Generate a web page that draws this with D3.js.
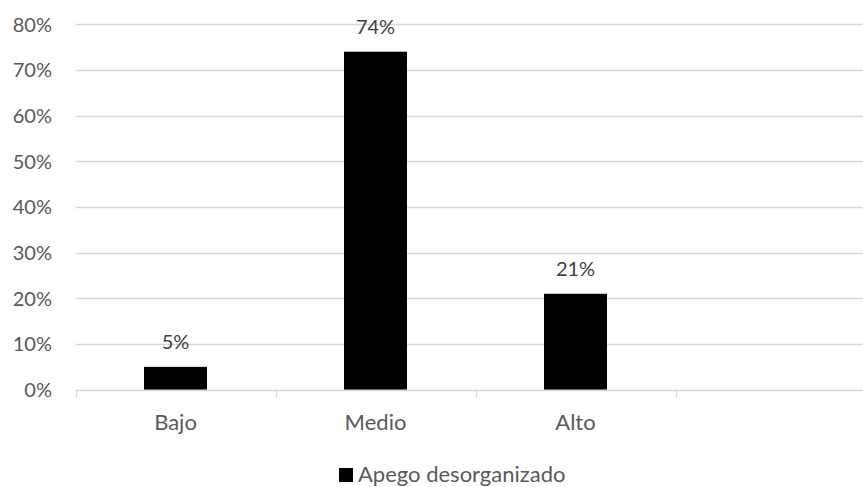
<!DOCTYPE html>
<html><head><meta charset="utf-8">
<script src="https://cdn.jsdelivr.net/npm/d3@7"></script>
<style>body{margin:0;background:#fff}svg{display:block}text{font-family:Lato,"Open Sans",sans-serif}</style>
</head><body><svg id="c" width="863" height="487"></svg>
<script>
const categories = ["Bajo", "Medio", "Alto", ""];
const values = [5, 74, 21, null];
const yTicks = [0, 10, 20, 30, 40, 50, 60, 70, 80];
const seriesName = "Apego desorganizado";

const FS = 22, FSN = 20;
const svg = d3.select("#c");
const x = d3.scaleBand().domain(categories).range([75.5, 875.5]).paddingInner(0).paddingOuter(0);
const y = d3.scaleLinear().domain([0, 80]).range([389.7, 24.3]);

// gridlines
svg.append("g").selectAll("line").data(yTicks.filter(d => d > 0)).join("line")
  .attr("x1", 75.5).attr("x2", 875.5)
  .attr("y1", d => Math.round(y(d)) + 0.5).attr("y2", d => Math.round(y(d)) + 0.5)
  .attr("stroke", "#d9d9d9").attr("stroke-width", 1.3);

// y labels
svg.append("g").selectAll("text").data(yTicks).join("text")
  .attr("x", 52).attr("y", d => y(d)).attr("dy", "0.36em")
  .attr("text-anchor", "end").attr("font-size", FSN).attr("fill", "#595959")
  .text(d => d + "%");

// bars
const bw = x.bandwidth() * 0.315;
const data = categories.map((c, i) => ({c, v: values[i]})).filter(d => d.v != null);
svg.append("g").selectAll("rect").data(data).join("rect")
  .attr("x", d => x(d.c) + x.bandwidth() / 2 - bw / 2)
  .attr("width", bw)
  .attr("y", d => y(d.v)).attr("height", d => y(0) - y(d.v))
  .attr("fill", "#000");

// x axis line and ticks
const axisY = Math.round(y(0)) + 0.5;
svg.append("line").attr("x1", 75.5).attr("x2", 875.5).attr("y1", axisY).attr("y2", axisY)
  .attr("stroke", "#d9d9d9").attr("stroke-width", 1.3);
svg.append("g").selectAll("line").data(categories).join("line")
  .attr("x1", d => Math.round(x(d)) + 0.5).attr("x2", d => Math.round(x(d)) + 0.5)
  .attr("y1", axisY).attr("y2", axisY + 7)
  .attr("stroke", "#d9d9d9").attr("stroke-width", 1.3);

// category labels
svg.append("g").selectAll("text").data(categories).join("text")
  .attr("x", d => x(d) + x.bandwidth() / 2).attr("y", 429.5)
  .attr("text-anchor", "middle").attr("font-size", FS).attr("fill", "#595959")
  .text(d => d);

// data labels
svg.append("g").selectAll("text").data(data).join("text")
  .attr("x", d => x(d.c) + x.bandwidth() / 2).attr("y", d => y(d.v) - 18)
  .attr("text-anchor", "middle").attr("font-size", FSN).attr("fill", "#404040")
  .text(d => d.v + "%");

// legend
const lg = svg.append("g");
lg.append("rect").attr("x", 339).attr("y", 468).attr("width", 14).attr("height", 14).attr("fill", "#000");
lg.append("text").attr("x", 358).attr("y", 482).attr("font-size", FS).attr("fill", "#595959").text(seriesName);
</script></body></html>
